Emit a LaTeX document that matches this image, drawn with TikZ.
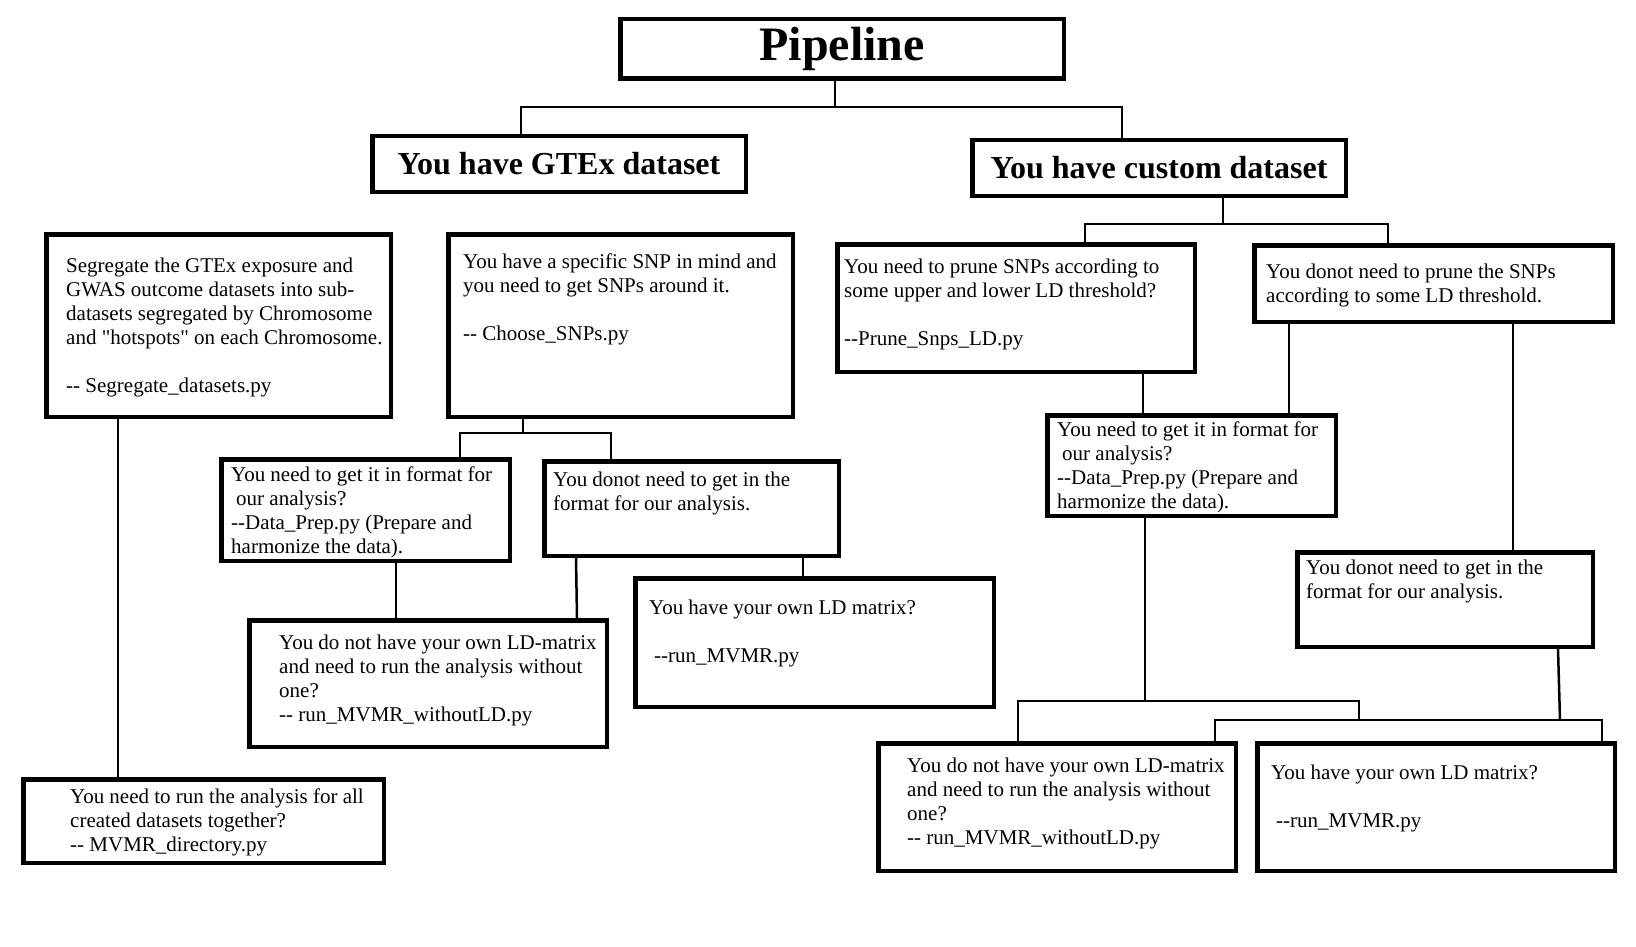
\documentclass[tikz,border=0pt]{standalone}
\usepackage{fontspec}
\setmainfont{Liberation Serif}[Ligatures=TeXOff]
\usepackage{xcolor}
\usepackage{tikz}

\tikzset{
    box/.style={draw, line width=4.5pt, inner sep=0pt, anchor=north west},
    head/.style={draw, line width=4.5pt, inner sep=0pt, font=\bfseries\fontsize{32}{38}\selectfont},
    txt/.style={font=\fontsize{21}{24}\selectfont, align=left, anchor=north west, inner sep=0pt},
    link/.style={line width=2.5pt}
}

\begin{document}
\begin{tikzpicture}[x=1pt,y=-1pt]
    \useasboundingbox (0,0) rectangle (1636,947);

    % Title and the two dataset boxes
    \node[head, font=\bfseries\fontsize{48}{56}\selectfont, minimum width=443.5pt, minimum height=59.5pt] (pipe) at (842,49) {Pipeline};
    \node[head, minimum width=373.5pt, minimum height=55.5pt] (gtex) at (559,164) {You have GTEx dataset};
    \node[head, minimum width=373.5pt, minimum height=55.5pt] (custom) at (1159,168) {You have custom dataset};

    % Plain boxes: name/left/top/width/height
    \foreach \name/\x/\y/\w/\h in {seg/44/232/349/187, snp/446/232/349/187,
        prepL/219/457/293/106, donotL/542/459/299/99, noldL/247/618/362/131,
        ownL/633/576/363/133, mvdir/21/777/365/88, prune/835/242/362/132,
        noprune/1252/243/363/81, prepR/1045/413/293/105, donotR/1295/550/300/99,
        noldR/876/741/362/132, ownR/1255/741/362/132} {
        \node[box, minimum width={\w pt-4.5pt}, minimum height={\h pt-4.5pt}] (\name) at (\x,\y) {};
    }

    % Texts inside the boxes
    \node[txt] (segtext) at (66,258) {Segregate the GTEx exposure and\\GWAS outcome datasets into sub-\\datasets segregated by Chromosome\\and "hotspots" on each Chromosome.\\[24pt]-- Segregate\_datasets.py};
    \node[txt] (snptext) at (463,254) {You have a specific SNP in mind and\\you need to get SNPs around it.\\[24pt]-- Choose\_SNPs.py};
    \node[txt] (prepLtext) at (231,467) {You need to get it in format for\\\hspace{5pt}our analysis?\\--Data\_Prep.py (Prepare and\\harmonize the data).};
    \node[txt] (donotLtext) at (553,472) {You donot need to get in the\\format for our analysis.};
    \node[txt] (noldLtext) at (279,635) {You do not have your own LD-matrix\\and need to run the analysis without\\one?\\-- run\_MVMR\_withoutLD.py};
    \node[txt] (ownLtext) at (649,600) {You have your own LD matrix?\\[24pt]\hspace{5pt}--run\_MVMR.py};
    \node[txt] (mvdirtext) at (70,789) {You need to run the analysis for all\\created datasets together?\\-- MVMR\_directory.py};
    \node[txt] (prunetext) at (844,259) {You need to prune SNPs according to\\some upper and lower LD threshold?\\[24pt]--Prune\_Snps\_LD.py};
    \node[txt] (noprunetext) at (1266,264) {You donot need to prune the SNPs\\according to some LD threshold.};
    \node[txt] (prepRtext) at (1057,422) {You need to get it in format for\\\hspace{5pt}our analysis?\\--Data\_Prep.py (Prepare and\\harmonize the data).};
    \node[txt] (donotRtext) at (1306,560) {You donot need to get in the\\format for our analysis.};
    \node[txt] (noldRtext) at (907,758) {You do not have your own LD-matrix\\and need to run the analysis without\\one?\\-- run\_MVMR\_withoutLD.py};
    \node[txt] (ownRtext) at (1271,765) {You have your own LD matrix?\\[24pt]\hspace{5pt}--run\_MVMR.py};

    % Bus points
    \coordinate (topbus) at (835,107);
    \coordinate (custbus) at (1223,224);
    \coordinate (snpbus) at (523,433);
    \coordinate (prepbus) at (1145,701);
    \coordinate (prepend) at (1359,720);
    \coordinate (donotbus) at (1560,720);

    % Pipeline branches
    \draw[link] ([xshift=217pt]pipe.south west) -- (topbus);
    \draw[link] ([xshift=151pt]gtex.north west) |- (topbus) -| ([xshift=152pt]custom.north west);

    % Custom dataset branches
    \draw[link] ([xshift=253pt]custom.south west) -- (custbus);
    \draw[link] ([xshift=250pt]prune.north west) |- (custbus) -| ([xshift=136pt]noprune.north west);

    % Specific SNP branches
    \draw[link] ([xshift=77pt]snp.south west) -- (snpbus);
    \draw[link] ([xshift=241pt]prepL.north west) |- (snpbus) -| ([xshift=69pt]donotL.north west);

    % Straight links
    \draw[link] ([xshift=74pt]seg.south west) -- ([xshift=97pt]mvdir.north west);
    \draw[link] ([xshift=177pt]prepL.south west) -- ([xshift=149pt]noldL.north west);
    \draw[link] ([xshift=34pt]donotL.south west) -- ([xshift=330pt]noldL.north west);
    \draw[link] ([xshift=261pt]donotL.south west) -- ([xshift=170pt]ownL.north west);
    \draw[link] ([xshift=308pt]prune.south west) -- ([xshift=98pt]prepR.north west);
    \draw[link] ([xshift=37pt]noprune.south west) -- ([xshift=244pt]prepR.north west);
    \draw[link] ([xshift=261pt]noprune.south west) -- ([xshift=218pt]donotR.north west);

    % Bottom right buses
    \draw[link] ([xshift=100pt]prepR.south west) -- (prepbus);
    \draw[link] ([xshift=142pt]noldR.north west) |- (prepbus) -| (prepend);
    \draw[link] ([xshift=263pt]donotR.south west) -- (donotbus);
    \draw[link] ([xshift=339pt]noldR.north west) |- (donotbus) -| ([xshift=347pt]ownR.north west);
\end{tikzpicture}
\end{document}
